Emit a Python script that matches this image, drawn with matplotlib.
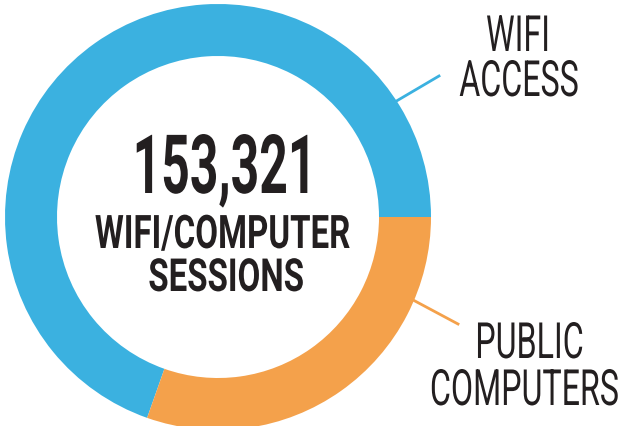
import matplotlib
matplotlib.use("Agg")
import matplotlib.pyplot as plt
from matplotlib.patheffects import AbstractPathEffect
from matplotlib.transforms import Affine2D

# data
categories = ["WIFI ACCESS", "PUBLIC COMPUTERS"]
shares = [69.6, 30.4]
colors = ["#3BB1E0", "#F4A14B"]
total_text = "153,321"
caption_lines = ["WIFI/COMPUTER", "SESSIONS"]
label_lines = [["WIFI", "ACCESS"], ["PUBLIC", "COMPUTERS"]]

INK = "#231F20"
W, H = 632, 426


class Tall(AbstractPathEffect):
    """stretch glyphs upward from the baseline -> tall condensed look"""
    def __init__(self, sy=1.5):
        super().__init__()
        self.sy = sy

    def draw_path(self, renderer, gc, tpath, affine, rgbFace=None):
        renderer.draw_path(gc, tpath, Affine2D().scale(1, self.sy) + affine, rgbFace)


def tall_text(x, y, s, size, sy, weight="normal"):
    # y is the baseline in image pixels (from the top)
    ax.text(x, H - y, s, ha="center", va="baseline", fontsize=size,
            fontweight=weight, family="Roboto", color=INK,
            path_effects=[Tall(sy)])


fig = plt.figure(figsize=(W / 100, H / 100), dpi=100)
ax = fig.add_axes([0, 0, 1, 1])

cx, cy, R = 218, H - 217, 213
ax.pie(shares, colors=colors, startangle=0, counterclock=True,
       center=(cx, cy), radius=R, frame=True,
       wedgeprops=dict(width=52, linewidth=0))
ax.set_xlim(0, W)
ax.set_ylim(0, H)
ax.set_aspect("equal")
ax.axis("off")

# centre text
tall_text(224.5, 193, total_text, 35.9, 1.64, "bold")
tall_text(222.5, 248, caption_lines[0], 23.8, 1.40, "bold")
tall_text(226, 291, caption_lines[1], 23.8, 1.38, "bold")

# callouts
ax.plot([388, 439], [H - 106, H - 76], color=colors[0], lw=2)
ax.plot([400, 458], [H - 293, H - 324], color=colors[1], lw=2)
tall_text(518, 51, label_lines[0][0], 23.2, 1.55)
tall_text(519, 96, label_lines[0][1], 23.2, 1.55)
tall_text(529.5, 358, label_lines[1][0], 23.2, 1.55)
tall_text(524.5, 405, label_lines[1][1], 23.2, 1.55)

fig.savefig("out.png", dpi=100, facecolor="white")
